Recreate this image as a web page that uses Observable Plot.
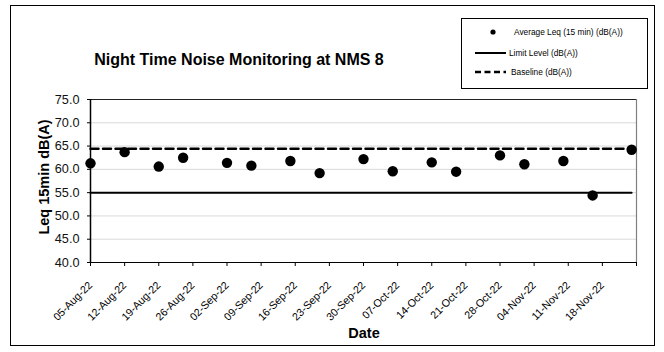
<!DOCTYPE html>
<html>
<head>
<meta charset="utf-8">
<script src="https://cdn.jsdelivr.net/npm/d3@7"></script>
<script src="https://cdn.jsdelivr.net/npm/@observablehq/plot@0.6"></script>
<style>
  html, body { margin: 0; padding: 0; background: #fff; }
  body { font-family: "Liberation Sans", Arial, sans-serif; }
  #wrap { position: relative; width: 664px; height: 352px; overflow: hidden; background: #fff; }
  #wrap svg.plot { position: absolute; left: 0; top: 0; }
  .outer { position: absolute; left: 10px; top: 5px; width: 645px; height: 341px; border: 1px solid #000; box-sizing: border-box; pointer-events: none; }
  .title { position: absolute; left: 239px; top: 60px; transform: translate(-50%, -50%); font-weight: bold; font-size: 16px; white-space: nowrap; }
  .ytitle { position: absolute; left: 44px; top: 177px; transform: translate(-50%, -50%) rotate(-90deg); font-weight: bold; font-size: 14.5px; white-space: nowrap; }
  .xtitle { position: absolute; left: 364px; top: 333px; transform: translate(-50%, -50%); font-weight: bold; font-size: 14.5px; white-space: nowrap; }
  .legend { position: absolute; left: 461px; top: 18px; width: 187px; height: 71px; border: 1px solid #000; box-sizing: border-box; background: #fff; font-size: 8.3px; }
  .legend .item { position: absolute; left: 0; height: 12px; display: flex; align-items: center; }
  .legend svg { display: block; }
</style>
</head>
<body>
<div id="wrap"></div>
<script>
// ---- data ----
const titleText = "Night Time Noise Monitoring at NMS 8";
const yTitle = "Leq 15min dB(A)";
const xTitle = "Date";
const seriesNames = ["Average Leq (15 min) (dB(A))", "Limit Level (dB(A))", "Baseline (dB(A))"];
const dates = ["2022-08-05","2022-08-12","2022-08-19","2022-08-24","2022-09-02","2022-09-07","2022-09-15","2022-09-21","2022-09-30","2022-10-06","2022-10-14","2022-10-19","2022-10-28","2022-11-02","2022-11-10","2022-11-16","2022-11-24"];
const leq = [61.3, 63.7, 60.6, 62.5, 61.4, 60.8, 61.8, 59.2, 62.2, 59.6, 61.5, 59.5, 63.0, 61.1, 61.8, 54.4, 64.2];
const limitLevel = 55.0;
const baseline = 64.4;
const xTicks = ["2022-08-05","2022-08-12","2022-08-19","2022-08-26","2022-09-02","2022-09-09","2022-09-16","2022-09-23","2022-09-30","2022-10-07","2022-10-14","2022-10-21","2022-10-28","2022-11-04","2022-11-11","2022-11-18","2022-11-25"];
const xTickLabels = ["05-Aug-22","12-Aug-22","19-Aug-22","26-Aug-22","02-Sep-22","09-Sep-22","16-Sep-22","23-Sep-22","30-Sep-22","07-Oct-22","14-Oct-22","21-Oct-22","28-Oct-22","04-Nov-22","11-Nov-22","18-Nov-22",""];
const yTicks = [40, 45, 50, 55, 60, 65, 70, 75];
const gridY = [45, 50, 55, 60, 65, 70];

// ---- build ----
const parse = d3.utcParse("%Y-%m-%d");
const rows = dates.map((d, i) => ({date: parse(d), leq: leq[i], limit: limitLevel, base: baseline}));
const tickDates = xTicks.map(parse);
const labelMap = new Map(tickDates.map((d, i) => [+d, xTickLabels[i]]));

const chart = Plot.plot({
  width: 664,
  height: 352,
  marginLeft: 90,
  marginRight: 28,
  marginTop: 99,
  marginBottom: 90,
  style: {fontFamily: '"Liberation Sans", Arial, sans-serif', fontSize: "11px", background: "transparent", color: "#000", overflow: "visible"},
  x: {type: "utc", domain: [tickDates[0], tickDates[tickDates.length - 1]]},
  y: {domain: [40, 75]},
  marks: [
    Plot.ruleY(gridY, {stroke: "#d9d9d9", strokeWidth: 1}),
    Plot.ruleY([75], {stroke: "#222", strokeWidth: 1}),
    Plot.ruleX([tickDates[tickDates.length - 1]], {stroke: "#808080", strokeWidth: 1.2}),
    Plot.line(rows, {x: "date", y: "limit", stroke: "#000", strokeWidth: 2}),
    Plot.line(rows, {x: "date", y: "base", stroke: "#000", strokeWidth: 2.5, strokeDasharray: "8,4.5"}),
    Plot.dot(rows, {x: "date", y: "leq", r: 5.2, fill: "#000", stroke: "none"}),
    Plot.axisY({ticks: yTicks, tickFormat: d => d.toFixed(1), tickSize: 3, tickPadding: 8, fontSize: 12.7, fill: "#111", label: null}),
    Plot.axisX({ticks: tickDates, tickFormat: d => labelMap.get(+d) ?? "", tickSize: 4, tickPadding: 17, tickRotate: -45, fontSize: 10.7, fill: "#000", label: null}),
    Plot.ruleX([tickDates[0]], {stroke: "#000", strokeWidth: 1.5}),
    Plot.ruleY([40], {stroke: "#000", strokeWidth: 1})
  ]
});
chart.classList.add("plot");

const wrap = document.getElementById("wrap");
wrap.appendChild(chart);

function addDiv(cls, text) {
  const el = document.createElement("div");
  el.className = cls;
  if (text != null) el.textContent = text;
  wrap.appendChild(el);
  return el;
}
addDiv("outer");
addDiv("title", titleText);
addDiv("ytitle", yTitle);
addDiv("xtitle", xTitle);

const legend = addDiv("legend");
const swatches = [
  '<svg width="44" height="12"><circle cx="31" cy="6" r="2.6" fill="#000"/></svg>',
  '<svg width="44" height="12"><line x1="13" y1="6" x2="47" y2="6" stroke="#000" stroke-width="2"/></svg>',
  '<svg width="44" height="12"><line x1="13" y1="6" x2="45" y2="6" stroke="#000" stroke-width="2.5" stroke-dasharray="6,3.5"/><circle cx="45.5" cy="6" r="1.6" fill="#000"/></svg>'
];
const itemTops = [7, 28, 47];
const textLeft = [52, 47, 49];
seriesNames.forEach((name, i) => {
  const it = document.createElement("div");
  it.className = "item";
  it.style.top = itemTops[i] + "px";
  it.innerHTML = swatches[i];
  const sp = document.createElement("span");
  sp.textContent = name;
  sp.style.position = "absolute";
  sp.style.left = textLeft[i] + "px";
  sp.style.whiteSpace = "nowrap";
  it.appendChild(sp);
  legend.appendChild(it);
});
</script>
</body>
</html>
